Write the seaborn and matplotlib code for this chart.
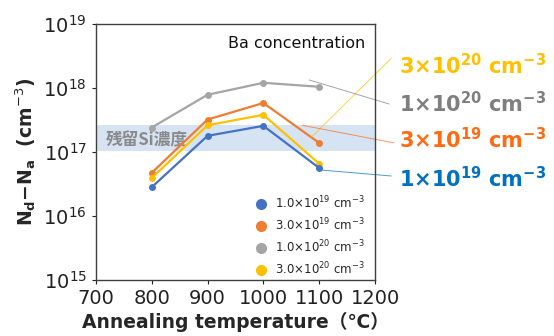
import numpy as np
import pandas as pd
import seaborn as sns
from matplotlib import pyplot as plt
from matplotlib.lines import Line2D

temps = [800, 900, 1000, 1100]
ba_1e19 = [2.8e16, 1.78e17, 2.55e17, 5.6e16]
ba_3e19 = [4.7e16, 3.2e17, 5.8e17, 1.38e17]
ba_1e20 = [2.4e17, 7.8e17, 1.2e18, 1.04e18]
ba_3e20 = [3.9e16, 2.6e17, 3.8e17, 6.5e16]
series_labels = ['1.0×10$^{19}$ cm$^{-3}$', '3.0×10$^{19}$ cm$^{-3}$',
                 '1.0×10$^{20}$ cm$^{-3}$', '3.0×10$^{20}$ cm$^{-3}$']
colors = ['#4472C4', '#ED7D31', '#A5A5A5', '#FFC000']
si_band = [1.05e17, 2.6e17]

df = pd.DataFrame({
    'temp': temps * 4,
    'nd': ba_1e19 + ba_3e19 + ba_1e20 + ba_3e20,
    'ba': sum([[s] * 4 for s in series_labels], []),
})

sns.set_style("white")
plt.rcParams['font.family'] = ['DejaVu Sans', 'Noto Sans CJK JP']
plt.rcParams['mathtext.fontset'] = 'dejavusans'

fig = plt.figure(figsize=(5.54, 3.36), dpi=100)
ax = fig.add_axes([0.173, 0.167, 0.504, 0.762])

ax.axhspan(si_band[0], si_band[1], color='#C9DAF0', alpha=0.75, lw=0, zorder=0)
ax.text(718, 1.5e17, '残留Si濃度', color='#8A8A8A', fontsize=12, fontweight='bold',
        family=['Noto Sans CJK JP', 'DejaVu Sans'], va='center', zorder=1)

# order so that yellow sits under blue where they overlap
draw_order = [series_labels[2], series_labels[1], series_labels[3], series_labels[0]]
pal = dict(zip(series_labels, colors))
for s in draw_order:
    sub = df[df['ba'] == s]
    sns.lineplot(data=sub, x='temp', y='nd', color=pal[s], marker='o', markersize=5,
                 markeredgewidth=0, lw=1.6, ax=ax, legend=False)

ax.set_yscale('log')
ax.set_xlim(700, 1200)
ax.set_ylim(1e15, 1e19)
ax.set_xticks([700, 800, 900, 1000, 1100, 1200])
ax.tick_params(axis='both', labelsize=14, colors='#222222', length=3, direction='out')
ax.tick_params(axis='y', which='minor', length=0)
ax.tick_params(axis='both', which='major', bottom=True, left=True)
for sp in ax.spines.values():
    sp.set_color('#404040')
    sp.set_linewidth(1.0)

ax.set_xlabel('Annealing temperature（℃）', fontsize=13.5, fontweight='bold',
              family=['DejaVu Sans', 'Noto Sans CJK JP'], labelpad=3)
ax.set_ylabel('N$_\\mathregular{d}$−N$_\\mathregular{a}$  (cm$^{-3}$)', fontsize=13.5, fontweight='bold',
              labelpad=4)

ax.text(0.965, 0.925, 'Ba concentration', transform=ax.transAxes, ha='right', va='center',
        fontsize=11.5, color='#111111')

handles = [Line2D([], [], ls='', marker='o', markersize=8, color=c, markeredgewidth=0)
           for c in colors]
ax.legend(handles, series_labels, loc='lower right', frameon=False, fontsize=8.5,
          handletextpad=0.2, labelspacing=0.45, bbox_to_anchor=(1.0, -0.03))

# right-hand callouts: text, colour, text y, leader start, leader end
callouts = [
    ('3×10$^{\\mathbf{20}}$ cm$^{\\mathbf{-3}}$', '#FFC000', 2.2e18, (1086, 1.7e17), (1229, 2.9e18)),
    ('1×10$^{\\mathbf{20}}$ cm$^{\\mathbf{-3}}$', '#7F7F7F', 5.7e17, (1082, 1.33e18), (1225, 5.6e17)),
    ('3×10$^{\\mathbf{19}}$ cm$^{\\mathbf{-3}}$', '#FF6A13', 1.57e17, (1070, 2.6e17), (1234, 1.38e17)),
    ('1×10$^{\\mathbf{19}}$ cm$^{\\mathbf{-3}}$', '#0070C0', 3.85e16, (1104, 5.2e16), (1229, 4.2e16)),
]
for txt, c, yv, p0, p1 in callouts:
    ax.plot([p0[0], p1[0]], [p0[1], p1[1]], color=c, lw=0.7, alpha=0.7, clip_on=False)
    ax.text(1243, yv, txt, color=c, fontsize=15, fontweight='bold', va='center', ha='left',
            clip_on=False)

plt.savefig('out.png', dpi=100)
plt.close()
